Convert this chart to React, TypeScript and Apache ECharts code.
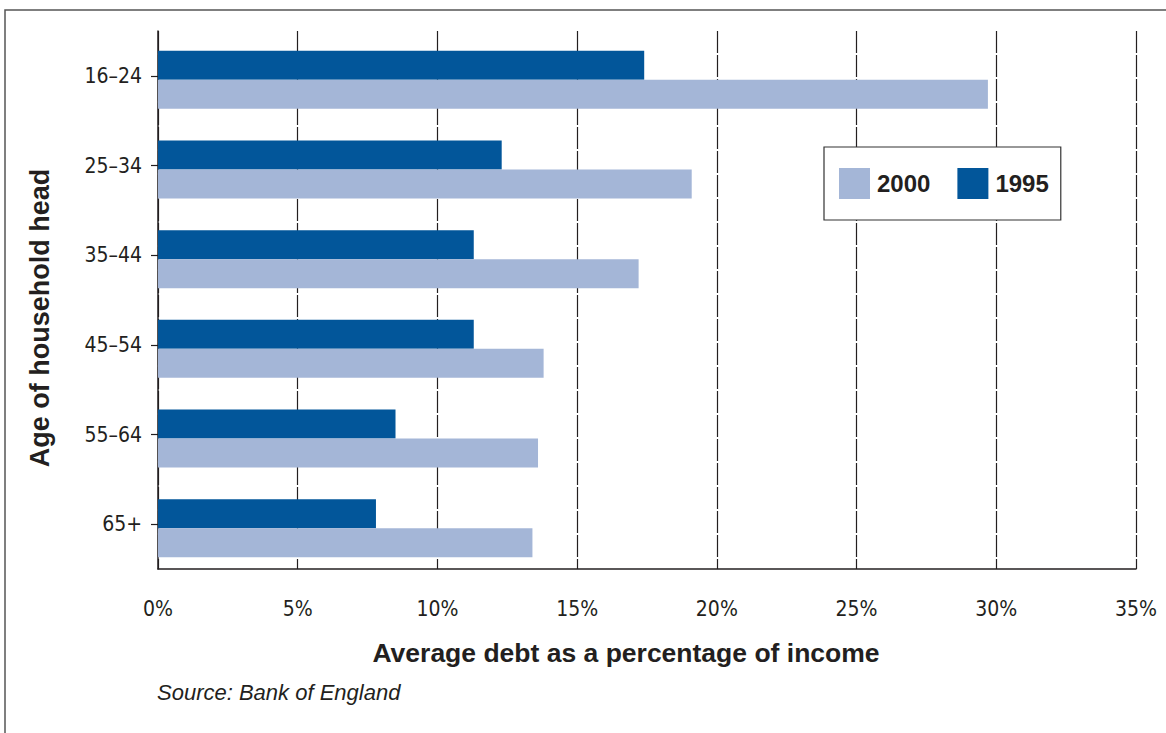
import React, { useEffect, useRef } from "react";
import * as echarts from "echarts";

const categories = ["16–24", "25–34", "35–44", "45–54", "55–64", "65+"];
const values1995 = [17.4, 12.3, 11.3, 11.3, 8.5, 7.8];
const values2000 = [29.7, 19.1, 17.2, 13.8, 13.6, 13.4];
const spacer = [null, null, null, null, null, null];
const xTicks = [0, 5, 10, 15, 20, 25, 30, 35];

const DARK = "#02569A";
const LIGHT = "#A4B6D7";
const NARROW = "'Liberation Sans Narrow', 'DejaVu Sans Condensed', sans-serif";
const SANS = "'Liberation Sans', Arial, sans-serif";

export default function App() {
  const ref = useRef<HTMLDivElement>(null);
  useEffect(() => {
    if (!ref.current) return;
    const chart = echarts.init(ref.current, null, { renderer: "svg" });
    chart.setOption({
      animation: false,
      backgroundColor: "#ffffff",
      grid: { left: 158, right: 30, top: 31, bottom: 164, containLabel: false },
      legend: {
        data: ["2000", "1995"],
        left: 824,
        top: 147,
        orient: "horizontal",
        icon: "rect",
        itemWidth: 31,
        itemHeight: 31,
        itemGap: 27,
        padding: [21, 12, 21, 15],
        borderColor: "#333",
        borderWidth: 1.2,
        backgroundColor: "#fff",
        textStyle: { fontFamily: SANS, fontWeight: "bold", fontSize: 24, color: "#231f20", padding: [10, 0, 0, 2] },
      },
      xAxis: {
        type: "value",
        min: xTicks[0],
        max: xTicks[xTicks.length - 1],
        interval: 5,
        axisLine: { show: true, lineStyle: { color: "#231f20", width: 1.5 } },
        axisTick: { show: false },
        axisLabel: {
          formatter: "{value}%",
          margin: 29,
          fontFamily: NARROW,
          fontSize: 21,
          color: "#231f20",
        },
        splitLine: { show: true, lineStyle: { color: "#231f20", width: 1.2, type: [22, 2] } },
      },
      yAxis: {
        type: "category",
        data: categories,
        inverse: true,
        axisLine: { show: true, lineStyle: { color: "#231f20", width: 1.5 } },
        axisTick: { show: true, alignWithLabel: true, length: 7, lineStyle: { color: "#231f20", width: 1.2 } },
        axisLabel: { margin: 16, fontFamily: NARROW, fontSize: 21, color: "#231f20" },
        splitLine: { show: false },
      },
      series: [
        {
          name: "spacer",
          type: "bar",
          data: spacer,
          itemStyle: { color: "rgba(0,0,0,0)" },
          barWidth: 8,
          barGap: "0%",
          silent: true,
        },
        {
          name: "1995",
          type: "bar",
          data: values1995,
          itemStyle: { color: DARK },
          barWidth: 29,
          barGap: "0%",
        },
        {
          name: "2000",
          type: "bar",
          data: values2000,
          itemStyle: { color: LIGHT },
          barWidth: 29,
          barGap: "0%",
        },
      ],
      graphic: [
        {
          type: "rect",
          shape: { x: 5, y: 10, width: 1200, height: 760 },
          style: { fill: "none", stroke: "#555", lineWidth: 1.5 },
          silent: true,
        },
        {
          type: "text",
          x: 40,
          y: 318,
          rotation: Math.PI / 2,
          style: {
            text: "Age of household head",
            fontFamily: SANS,
            fontWeight: "bold",
            fontSize: 27,
            fill: "#231f20",
            align: "center",
            verticalAlign: "middle",
          },
        },
        {
          type: "text",
          x: 626,
          y: 653,
          style: {
            text: "Average debt as a percentage of income",
            fontFamily: SANS,
            fontWeight: "bold",
            fontSize: 26.5,
            fill: "#231f20",
            align: "center",
            verticalAlign: "middle",
          },
        },
        {
          type: "text",
          x: 157,
          y: 692,
          style: {
            text: "Source: Bank of England",
            fontFamily: SANS,
            fontStyle: "italic",
            fontSize: 22,
            fill: "#231f20",
            align: "left",
            verticalAlign: "middle",
          },
        },
      ],
    });
    return () => chart.dispose();
  }, []);
  return (
    <div
      ref={ref}
      style={{ position: "fixed", left: 0, top: 0, width: 1166, height: 733 }}
    />
  );
}
